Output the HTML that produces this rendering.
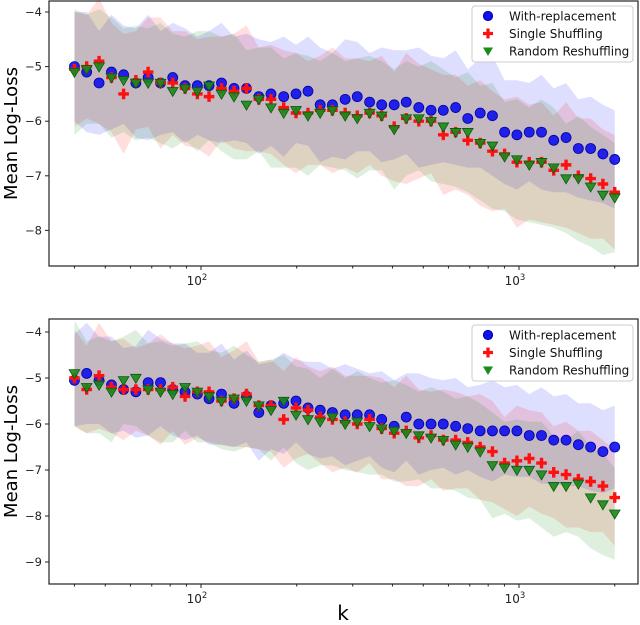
<!DOCTYPE html>
<html><head><meta charset="utf-8"><style>
body{margin:0;background:#fff;}
svg{display:block;font-family:"DejaVu Sans","Liberation Sans",sans-serif;}
</style></head><body>
<svg id="chart" width="640" height="625" viewBox="0 0 640 625"></svg>
<script>
const kValues=[40,43.7,47.8,52.3,57.1,62.4,68.2,74.6,81.5,89.1,97.4,106,116,127,139,152,166,182,199,217,237,259,284,310,339,370,405,442,484,529,578,632,690,755,825,901,985,1077,1177,1286,1406,1537,1680,1836,2000];
const topWith=[-5.0,-5.1,-5.3,-5.1,-5.15,-5.3,-5.2,-5.3,-5.2,-5.35,-5.35,-5.35,-5.3,-5.4,-5.4,-5.55,-5.5,-5.55,-5.5,-5.45,-5.7,-5.7,-5.6,-5.55,-5.65,-5.7,-5.7,-5.65,-5.75,-5.8,-5.8,-5.75,-5.95,-5.85,-5.9,-6.2,-6.25,-6.2,-6.2,-6.35,-6.3,-6.5,-6.5,-6.6,-6.7];
const topSingle=[-5.05,-5.0,-4.9,-5.2,-5.5,-5.25,-5.1,-5.3,-5.3,-5.4,-5.5,-5.55,-5.4,-5.45,-5.4,-5.6,-5.6,-5.75,-5.85,-5.85,-5.8,-5.8,-5.85,-5.9,-5.85,-5.9,-6.1,-5.95,-6.0,-6.0,-6.25,-6.2,-6.35,-6.4,-6.55,-6.6,-6.75,-6.75,-6.75,-6.9,-6.8,-7.0,-7.05,-7.15,-7.3];
const topRandom=[-5.1,-5.05,-5.0,-5.2,-5.25,-5.3,-5.3,-5.3,-5.45,-5.4,-5.45,-5.35,-5.5,-5.55,-5.7,-5.6,-5.75,-5.85,-5.8,-5.9,-5.85,-5.8,-5.9,-5.95,-5.85,-5.9,-6.15,-5.95,-5.95,-6.0,-6.1,-6.2,-6.2,-6.4,-6.45,-6.65,-6.7,-6.8,-6.75,-6.85,-7.05,-7.05,-7.2,-7.35,-7.4];
const botWith=[-5.05,-4.9,-5.05,-5.15,-5.25,-5.3,-5.1,-5.1,-5.25,-5.3,-5.35,-5.45,-5.35,-5.55,-5.4,-5.75,-5.6,-5.55,-5.5,-5.65,-5.7,-5.75,-5.8,-5.8,-5.8,-5.9,-6.05,-5.85,-6.0,-6.0,-6.0,-6.05,-6.1,-6.15,-6.15,-6.15,-6.15,-6.25,-6.25,-6.35,-6.35,-6.45,-6.5,-6.6,-6.5];
const botSingle=[-5.0,-5.25,-4.95,-5.2,-5.25,-5.25,-5.25,-5.25,-5.2,-5.4,-5.3,-5.3,-5.5,-5.45,-5.35,-5.6,-5.6,-5.9,-5.65,-5.7,-5.85,-5.9,-5.95,-6.0,-5.9,-6.1,-6.2,-6.15,-6.3,-6.25,-6.35,-6.35,-6.4,-6.5,-6.6,-6.85,-6.8,-6.75,-6.85,-7.05,-7.1,-7.2,-7.25,-7.35,-7.6];
const botRandom=[-4.9,-5.2,-5.15,-5.3,-5.05,-5.0,-5.25,-5.3,-5.35,-5.2,-5.3,-5.4,-5.5,-5.45,-5.5,-5.6,-5.7,-5.5,-5.8,-5.9,-5.95,-5.85,-6.0,-5.95,-6.05,-6.1,-6.15,-6.2,-6.25,-6.3,-6.35,-6.45,-6.5,-6.6,-6.9,-6.95,-7.0,-7.0,-7.1,-7.35,-7.35,-7.3,-7.6,-7.75,-7.95];
const spreadA=[1.0,1.1,0.95,1.05,0.9,1.0,1.15,0.95,1.0,1.05,0.9,1.0,1.1,0.95,1.0,1.05,0.95,1.1,0.9,1.0,1.05,0.95,1.1,1.0,0.9,1.05,1.0,0.95,1.1,1.0,0.95,1.05,0.9,1.0,1.1,0.95,1.0,0.9,1.05,0.95,1.0,0.9,0.95,0.9,0.9];
const spreadB=[1.05,0.95,1.15,1.0,1.1,0.9,1.0,1.2,0.95,1.05,1.0,1.1,0.95,1.05,1.15,0.95,1.0,1.05,1.1,0.95,1.0,1.15,1.0,1.05,0.95,1.1,1.0,1.2,1.05,0.95,1.1,1.05,1.0,1.15,1.1,1.0,1.2,1.05,1.1,1.0,1.15,1.05,1.1,1.0,1.05];
const spreadC=[1.15,1.0,1.05,1.1,0.95,1.05,1.0,1.1,1.05,0.95,1.1,1.0,1.05,1.15,1.0,0.95,1.1,1.0,1.05,1.1,0.95,1.05,1.0,1.1,1.05,1.0,1.1,1.05,0.95,1.1,1.05,1.0,1.1,1.05,1.15,1.0,1.1,1.05,1.15,1.1,1.0,1.15,1.1,1.1,1.0];
const yTicksTop=[-4,-5,-6,-7,-8];
const yTicksBot=[-4,-5,-6,-7,-8,-9];
const legendLabels=["With-replacement","Single Shuffling","Random Reshuffling"];

const NS="http://www.w3.org/2000/svg";
const svg=document.getElementById('chart');
function mk(tag,attrs,parent){const e=document.createElementNS(NS,tag);for(const a in attrs)e.setAttribute(a,attrs[a]);(parent||svg).appendChild(e);return e;}
const X0=49,X1=638;
function xs(k){return 201+(Math.log10(k)-2)*318;}

function drawPanel(p){
  const g=mk('g',{});
  
  
  const ys=v=>p.y0+(p.v0-v)*p.ppu;
  const bands=[[p.w,spreadA,'rgba(0,0,255,0.13)','band-with-replacement'],[p.s,spreadB,'rgba(255,0,0,0.13)','band-single-shuffling'],[p.r,spreadC,'rgba(0,128,0,0.13)','band-random-reshuffling']];
  bands.forEach(b=>{
    let d='';
    b[0].forEach((v,i)=>{d+=(i?'L':'M')+xs(kValues[i]).toFixed(1)+','+ys(v+b[1][i]*p.sc).toFixed(1);});
    for(let i=b[0].length-1;i>=0;i--){d+='L'+xs(kValues[i]).toFixed(1)+','+ys(b[0][i]-b[1][i]*p.sc).toFixed(1);}
    const e=mk('path',{d:d+'Z',fill:b[2]},g);
    
    
  });
  p.w.forEach((v,i)=>{const c=mk('circle',{cx:xs(kValues[i]),cy:ys(v),r:5,fill:'#1010f0',stroke:'#0000a0','stroke-width':0.8,'fill-opacity':0.9},g);
    
    });
  p.s.forEach((v,i)=>{const x=xs(kValues[i]),y=ys(v);const c=mk('path',{d:`M${x-5.3},${y-1.7}h3.6v-3.6h3.4v3.6h3.6v3.4h-3.6v3.6h-3.4v-3.6h-3.6Z`,fill:'#ff1010'},g);
    
    });
  p.r.forEach((v,i)=>{const x=xs(kValues[i]),y=ys(v);const c=mk('path',{d:`M${x-5.3},${y-3.7}L${x+5.3},${y-3.7}L${x},${y+5.3}Z`,fill:'#1a8a1a',stroke:'#0a5a0a','stroke-width':0.8,'fill-opacity':0.9},g);
    
    });
  const f=mk('rect',{x:X0,y:p.top,width:X1-X0,height:p.bot-p.top,fill:'none',stroke:'#222','stroke-width':1.2},g);
  
  
  p.ticks.forEach(t=>{const y=ys(t);mk('line',{x1:X0-4,x2:X0,y1:y,y2:y,stroke:'#222'},g);
    const tx=mk('text',{x:X0-7,y:y+4,'font-size':11.5,'text-anchor':'end',fill:'#222'},g);tx.textContent='\u2212'+Math.abs(t);
    
    });
  for(let dec=10;dec<=1000;dec*=10)for(let m=1;m<10;m++){const k=dec*m;if(k<34||k>2360)continue;const x=xs(k);const major=m===1;
    mk('line',{x1:x,x2:x,y1:p.bot,y2:p.bot+(major?4:2.5),stroke:'#222'},g);
    if(major){const tx=mk('text',{x:x-4,y:p.bot+19,'font-size':12,'text-anchor':'middle',fill:'#222'},g);tx.innerHTML='10<tspan font-size="8.5" dy="-5">'+Math.log10(k)+'</tspan>';
      
      }}
  const yl=mk('text',{x:0,y:0,'font-size':18,'text-anchor':'middle',fill:'#000',transform:`translate(17,${(p.top+p.bot)/2}) rotate(-90)`},g);yl.textContent='Mean Log-Loss';
  
  
  const lg=mk('g',{},g);
  
  
  mk('rect',{x:472,y:p.lg,width:161,height:56,rx:3,fill:'#fff','fill-opacity':0.85,stroke:'#ccc'},lg);
  legendLabels.forEach((l,i)=>{const y=p.lg+10+i*17.5;const e=mk('g',{},lg);
    
    
    if(i===0)mk('circle',{cx:488,cy:y,r:4.6,fill:'#1010f0',stroke:'#0000a0'},e);
    if(i===1)mk('path',{d:`M483,${y-1.6}h3.4v-3.4h3.2v3.4h3.4v3.2h-3.4v3.4h-3.2v-3.4h-3.4Z`,fill:'#ff1010'},e);
    if(i===2)mk('path',{d:`M483,${y-3.5}L493,${y-3.5}L488,${y+5}Z`,fill:'#1a8a1a'},e);
    const t=mk('text',{x:509,y:y+4.5,'font-size':12,fill:'#111'},e);t.textContent=l;});
}
drawPanel({name:'top-panel',top:1,bot:266,y0:12,v0:-4,ppu:54.6,ticks:yTicksTop,w:topWith,s:topSingle,r:topRandom,sc:1.0,lg:6});
drawPanel({name:'bottom-panel',top:319,bot:584,y0:332,v0:-4,ppu:46,ticks:yTicksBot,w:botWith,s:botSingle,r:botRandom,sc:1.0,lg:325});
const kl=mk('text',{x:343,y:620,'font-size':20,'text-anchor':'middle',fill:'#000'});kl.textContent='k';


</script>
</body></html>
